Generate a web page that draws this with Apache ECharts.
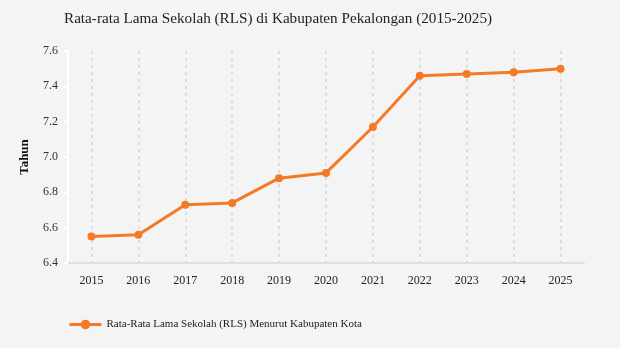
<!DOCTYPE html>
<html>
<head>
<meta charset="utf-8">
<style>
  html, body { margin: 0; padding: 0; background: #f4f4f4; }
  #chart { width: 620px; height: 348px; }
</style>
<script src="https://cdn.jsdelivr.net/npm/echarts@6/dist/echarts.min.js"></script>
</head>
<body>
<div id="chart"></div>
<script>
// Average years of schooling, Kabupaten Pekalongan
const years = ['2015', '2016', '2017', '2018', '2019', '2020', '2021', '2022', '2023', '2024', '2025'];
const rlsValues = [6.55, 6.56, 6.73, 6.74, 6.88, 6.91, 7.17, 7.46, 7.47, 7.48, 7.50];
const seriesName = 'Rata-Rata Lama Sekolah (RLS) Menurut Kabupaten Kota';
const titleText = 'Rata-rata Lama Sekolah (RLS) di Kabupaten Pekalongan (2015-2025)';
const yAxisName = 'Tahun';

const serif = '"Liberation Serif", "DejaVu Serif", serif';
const orange = '#f47a27';

const chart = echarts.init(document.getElementById('chart'));
chart.setOption({
  backgroundColor: '#f4f4f4',
  animation: false,
  title: {
    text: titleText,
    left: 59,
    top: 7,
    textStyle: { fontFamily: serif, fontSize: 15.2, fontWeight: 'normal', color: '#222' }
  },
  grid: { left: 68, right: 36, top: 51, bottom: 85, containLabel: false },
  legend: {
    left: 63,
    top: 314,
    itemWidth: 32,
    itemHeight: 12,
    itemGap: 6,
    lineStyle: { width: 3 },
    textStyle: { fontFamily: serif, fontSize: 11, color: '#222' },
    data: [seriesName]
  },
  xAxis: {
    type: 'category',
    data: years,
    boundaryGap: true,
    axisLine: { lineStyle: { color: '#e0e0e0', width: 2 } },
    axisTick: { show: false, alignWithLabel: true },
    axisLabel: { fontFamily: serif, fontSize: 12, color: '#222', margin: 12 },
    splitLine: { show: true, alignWithLabel: true, lineStyle: { color: '#dcdcdc', type: [3, 4], width: 2 } }
  },
  yAxis: {
    type: 'value',
    min: 6.4,
    max: 7.6,
    interval: 0.2,
    name: yAxisName,
    nameLocation: 'middle',
    nameGap: 37,
    nameTextStyle: { fontFamily: serif, fontSize: 13, fontWeight: 'bold', color: '#111' },
    axisLine: { show: true, lineStyle: { color: '#ffffff', width: 2 } },
    axisTick: { show: true, length: 4, lineStyle: { color: '#ffffff', width: 2 } },
    axisLabel: {
      fontFamily: serif, fontSize: 12, color: '#333', margin: 10,
      formatter: v => v.toFixed(1)
    },
    splitLine: { show: false }
  },
  series: [{
    name: seriesName,
    type: 'line',
    data: rlsValues,
    symbol: 'circle',
    symbolSize: 8,
    itemStyle: { color: orange },
    lineStyle: { color: orange, width: 3 }
  }]
});
</script>
</body>
</html>
